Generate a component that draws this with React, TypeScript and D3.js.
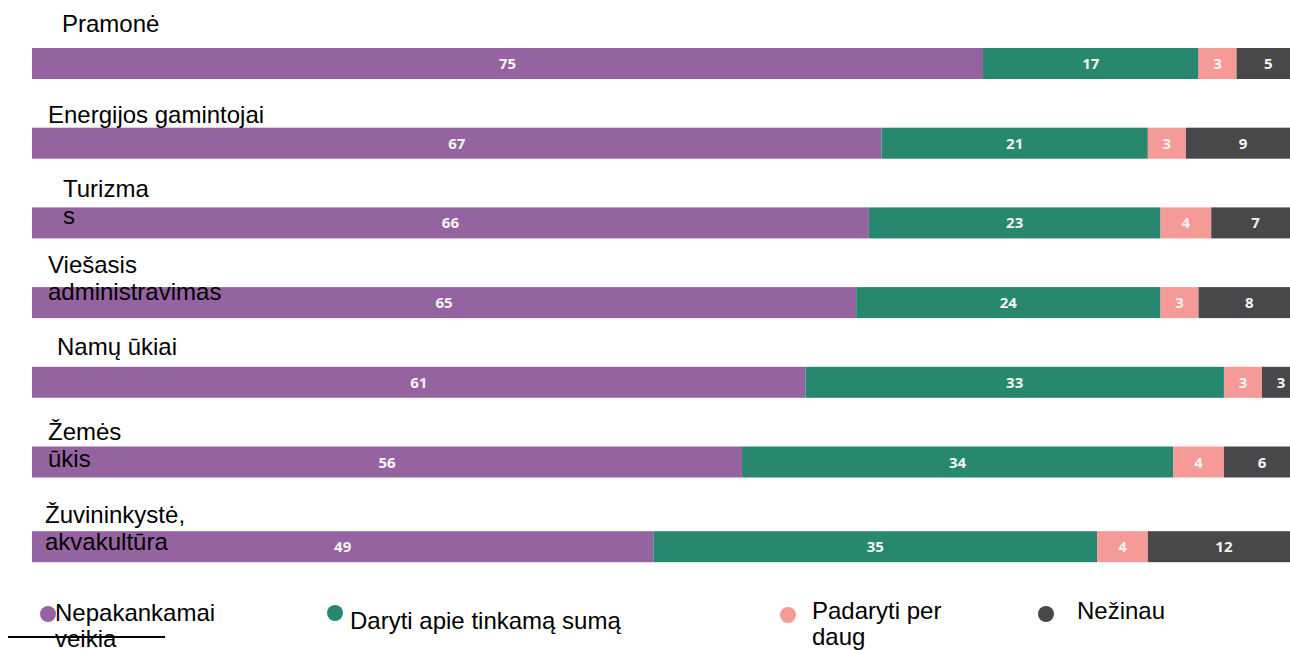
import React from "react";
import * as d3 from "d3";

const categories = [
  "Pramonė",
  "Energijos gamintojai",
  "Turizmas",
  "Viešasis administravimas",
  "Namų ūkiai",
  "Žemės ūkis",
  "Žuvininkystė, akvakultūra",
];
const categoryLines = [
  ["Pramonė"],
  ["Energijos gamintojai"],
  ["Turizma", "s"],
  ["Viešasis", "administravimas"],
  ["Namų ūkiai"],
  ["Žemės", "ūkis"],
  ["Žuvininkystė,", "akvakultūra"],
];
const seriesKeys = ["nepakankamai", "tinkama", "perDaug", "nezinau"];
const seriesNames = [
  ["Nepakankamai", "veikia"],
  ["Daryti apie tinkamą sumą"],
  ["Padaryti per", "daug"],
  ["Nežinau"],
];
const nepakankamai = [75, 67, 66, 65, 61, 56, 49];
const tinkama = [17, 21, 23, 24, 33, 34, 35];
const perDaug = [3, 3, 4, 3, 3, 4, 4];
const nezinau = [5, 9, 7, 8, 3, 6, 12];

// layout (not data)
const COLORS = ["#9663a1", "#28876f", "#f59a96", "#48484a"];
const labelDx = [62, 48, 63, 48, 57, 48, 45];
const labelDy = [-16, -5, -10, -14, -11.5, -7, -8];
const rowNudge = [0, 0, 0, 0, 0, 0, 5];
const legendX = [55, 350, 812, 1077];
const legendBase = [621, 629, 619, 619];
const legendCx = [48, 335, 788, 1046];
const legendCy = [614, 613, 615, 614];

export default function App() {
  const W = 1290;
  const H = 650;
  const rows = categories.map((c, i) => ({
    cat: c,
    nepakankamai: nepakankamai[i],
    tinkama: tinkama[i],
    perDaug: perDaug[i],
    nezinau: nezinau[i],
  }));
  const stack = d3.stack<any>().keys(seriesKeys)(rows);
  const x = d3.scaleLinear().domain([0, 100]).range([32, 1300]);
  const y = d3
    .scalePoint<string>()
    .domain(categories)
    .range([48, 48 + 79.7 * 6]);
  const top = (i: number) => (y(categories[i]) as number) + rowNudge[i];
  const bh = 31;
  const font = "'Liberation Sans', Arial, sans-serif";

  return (
    <svg
      width={W}
      height={H}
      style={{ position: "absolute", left: 0, top: 0, background: "#fff" }}
    >
      {stack.map((s, si) => (
        <g key={si} fill={COLORS[si]}>
          {s.map((d, i) => (
            <rect
              key={i}
              x={x(d[0])}
              y={top(i)}
              width={x(d[1]) - x(d[0])}
              height={bh}
            />
          ))}
        </g>
      ))}
      {stack.map((s, si) => (
        <g key={"t" + si}>
          {s.map((d, i) => (
            <text
              key={i}
              x={(x(d[0]) + x(d[1])) / 2}
              y={top(i) + bh / 2 + 5.5}
              textAnchor="middle"
              fill="#f4f4f4"
              fontFamily="'Open Sans', 'DejaVu Sans', sans-serif"
              fontWeight={700}
              fontSize={15}
            >
              {d[1] - d[0]}
            </text>
          ))}
        </g>
      ))}
      {categoryLines.map((lines, i) => (
        <text
          key={"c" + i}
          x={labelDx[i]}
          y={top(i) + labelDy[i]}
          fontFamily={font}
          fontSize={24}
          fill="#000"
        >
          {lines.map((l, li) => (
            <tspan key={li} x={labelDx[i]} dy={li === 0 ? 0 : 27}>
              {l}
            </tspan>
          ))}
        </text>
      ))}
      {seriesNames.map((lines, i) => (
        <g key={"l" + i}>
          <circle cx={legendCx[i]} cy={legendCy[i]} r={8} fill={COLORS[i]} />
          <text
            x={legendX[i]}
            y={legendBase[i]}
            fontFamily={font}
            fontSize={24}
            fill="#000"
          >
            {lines.map((l, li) => (
              <tspan key={li} x={legendX[i]} dy={li === 0 ? 0 : 26}>
                {l}
              </tspan>
            ))}
          </text>
        </g>
      ))}
      <line x1={8} x2={165} y1={637} y2={637} stroke="#000" strokeWidth={2} />
    </svg>
  );
}
